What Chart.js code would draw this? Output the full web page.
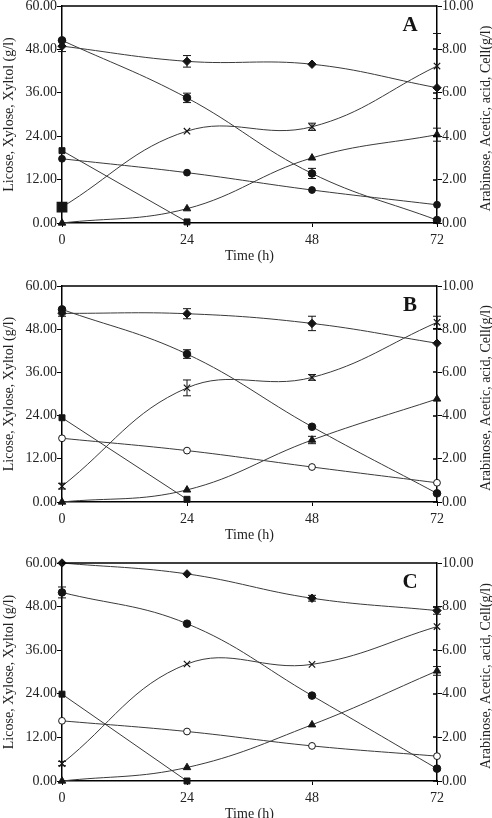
<!DOCTYPE html>
<html>
<head>
<meta charset="utf-8">
<script src="https://cdn.jsdelivr.net/npm/chart.js@4.4.1/dist/chart.umd.min.js"></script>
<style>
  html, body { margin: 0; padding: 0; background: #fff; overflow: hidden; }
  body { width: 492px; height: 818px; position: relative; }
  canvas { position: absolute; left: 0; }
</style>
</head>
<body>
<canvas id="chartA" width="492" height="275" style="top:-10px"></canvas>
<canvas id="chartB" width="492" height="274" style="top:270px"></canvas>
<canvas id="chartC" width="492" height="276" style="top:547px"></canvas>
<script>
// time points (h)
const hours = [0, 24, 48, 72];
const squareHours = [0, 24];
const xTicks = [0, 24, 48, 72];
const leftTicks = [0, 12, 24, 36, 48, 60];
const rightTicks = [0, 2, 4, 6, 8, 10];

// panel A  (left axis g/l: diamond, bigCircle, cross, square; right axis: smallCircle, triangle)
const diamondA = [48.9, 44.7, 43.9, 37.4];
const bigCircleA = [50.5, 34.6, 13.7, 0.8];
const crossA = [4.4, 25.4, 26.6, 43.4];
const squareA = [20.0, 0.3];
const smallCircleA = [2.96, 2.32, 1.52, 0.84];
const triangleA = [0, 0.66, 3.0, 4.07];
const diamondErrA = [1.5, 1.6, 0, 0];
const bigCircleErrA = [0, 1.3, 1.4, 0];
const crossErrA = [0, 0, 1.0, 9.0];
const triangleErrA = [0, 0, 0, 0.3];

// panel B
const diamondB = [52.4, 52.3, 49.6, 44.1];
const bigCircleB = [53.5, 41.1, 20.9, 2.4];
const crossB = [4.4, 31.7, 34.6, 49.9];
const squareB = [23.4, 0.75];
const smallCircleB = [2.95, 2.38, 1.62, 0.89];
const triangleB = [0, 0.56, 2.87, 4.77];
const diamondErrB = [0.8, 1.4, 2.0, 0];
const bigCircleErrB = [0, 1.2, 0, 0];
const crossErrB = [0.8, 2.2, 0.8, 1.7];
const triangleErrB = [0, 0, 0.17, 0];

// panel C
const diamondC = [60.0, 57.0, 50.3, 46.9];
const bigCircleC = [51.9, 43.3, 23.5, 3.4];
const crossC = [4.8, 32.2, 32.1, 42.5];
const squareC = [23.9, 0];
const smallCircleC = [2.76, 2.27, 1.61, 1.14];
const triangleC = [0, 0.62, 2.58, 5.05];
const diamondErrC = [0, 0, 0.8, 1.0];
const bigCircleErrC = [1.5, 0, 0, 0];
const crossErrC = [0.6, 0, 0, 0];
const triangleErrC = [0, 0, 0, 0.2];

const FONT = '"Liberation Serif", "DejaVu Serif", serif';
const INK = '#151515';
const LINE = '#3a3a3a';
Chart.defaults.font.family = FONT;
Chart.defaults.font.size = 14;
Chart.defaults.color = '#222';

function pts(xs, ys) {
  return ys.map((v, i) => ({ x: xs[i], y: v }));
}

function series(xs, ys, axis, style, err) {
  return Object.assign({
    data: pts(xs, ys),
    yAxisID: axis,
    err: err || null,
    borderColor: LINE,
    borderWidth: 1,
    tension: 0.4,
    clip: false,
    pointBorderColor: INK,
    pointBackgroundColor: INK,
    pointBorderWidth: 1,
    pointHoverRadius: 0
  }, style);
}

const panelPlugin = {
  id: 'panel',
  beforeDatasetsDraw(chart) {
    const ctx = chart.ctx;
    ctx.save();
    ctx.strokeStyle = INK;
    ctx.lineWidth = 1;
    chart.data.datasets.forEach((ds, i) => {
      if (!ds.err) return;
      const meta = chart.getDatasetMeta(i);
      const sc = chart.scales[ds.yAxisID];
      ds.err.forEach((e, j) => {
        if (!e) return;
        const p = meta.data[j];
        const v = ds.data[j].y;
        const t = sc.getPixelForValue(v + e);
        const b = sc.getPixelForValue(Math.max(0, v - e));
        ctx.beginPath();
        ctx.moveTo(p.x, t); ctx.lineTo(p.x, b);
        ctx.moveTo(p.x - 4, t); ctx.lineTo(p.x + 4, t);
        ctx.moveTo(p.x - 4, b); ctx.lineTo(p.x + 4, b);
        ctx.stroke();
      });
    });
    ctx.restore();
  },
  afterDraw(chart, args, opts) {
    const { ctx, chartArea: a } = chart;
    ctx.save();
    ctx.strokeStyle = '#000';
    ctx.lineWidth = 1.5;
    ctx.beginPath();
    ctx.moveTo(a.left, a.top); ctx.lineTo(a.right, a.top);
    const r = chart.scales.y1;
    r.ticks.forEach(t => {
      const py = Math.round(r.getPixelForValue(t.value));
      ctx.moveTo(a.right - 4, py); ctx.lineTo(a.right, py);
    });
    ctx.stroke();

    ctx.fillStyle = INK;
    ctx.font = 'bold 21px ' + FONT;
    ctx.textAlign = 'center';
    ctx.textBaseline = 'middle';
    ctx.fillText(opts.letter, a.right - 27, a.top + 20);

    ctx.fillStyle = '#222';
    ctx.translate(486, (a.top + a.bottom) / 2 + 4);
    ctx.rotate(-Math.PI / 2);
    ctx.font = '14px ' + FONT;
    ctx.fillText('Arabinose, Acetic, acid, Cell(g/l)', 0, 0);
    ctx.restore();
  }
};

function makePanel(id, letter, d, firstBigSquare, hollowSmall) {
  const crossStyle = {
    pointStyle: firstBigSquare ? ['rect', 'crossRot', 'crossRot', 'crossRot'] : 'crossRot',
    pointRadius: firstBigSquare ? [6.8, 4.5, 4.5, 4.5] : 4.5,
    pointBorderWidth: 1.2
  };
  new Chart(document.getElementById(id), {
    type: 'line',
    data: {
      datasets: [
        series(hours, d.diamond, 'y', { pointStyle: 'rectRot', pointRadius: 4.2 }, d.diamondErr),
        series(hours, d.bigCircle, 'y', { pointStyle: 'circle', pointRadius: 3.8 }, d.bigCircleErr),
        series(hours, d.cross, 'y', crossStyle, d.crossErr),
        series(squareHours, d.square, 'y', { pointStyle: 'rect', pointRadius: 4.2, tension: 0 }, null),
        series(hours, d.smallCircle, 'y1', {
          pointStyle: 'circle', pointRadius: 3.4,
          pointBackgroundColor: hollowSmall ? '#fff' : INK
        }, null),
        series(hours, d.triangle, 'y1', { pointStyle: 'triangle', pointRadius: 4.3 }, d.triangleErr)
      ]
    },
    options: {
      responsive: false,
      animation: false,
      events: [],
      layout: { padding: { top: 16, left: 0, right: 0, bottom: 0 } },
      plugins: { legend: { display: false }, tooltip: { enabled: false }, panel: { letter: letter } },
      scales: {
        x: {
          type: 'linear', min: 0, max: 72,
          afterBuildTicks: s => { s.ticks = xTicks.map(v => ({ value: v })); },
          afterFit: s => { s.height = 42; },
          ticks: { padding: 5, maxRotation: 0, callback: v => String(v) },
          grid: { drawOnChartArea: false, tickLength: 4, tickColor: '#000' },
          border: { color: '#000', width: 1.5 },
          title: { display: true, text: 'Time (h)', padding: { top: 0, bottom: 0 } }
        },
        y: {
          position: 'left', min: 0, max: 60,
          afterBuildTicks: s => { s.ticks = leftTicks.map(v => ({ value: v })); },
          afterFit: s => { s.width = 62; },
          ticks: { padding: 0, callback: v => v.toFixed(2) },
          grid: { drawOnChartArea: false, tickLength: 5, tickColor: '#000' },
          border: { color: '#000', width: 1.5 },
          title: { display: true, text: 'Licose, Xylose, Xyltol (g/l)', padding: { top: 1, bottom: 0 } }
        },
        y1: {
          position: 'right', min: 0, max: 10,
          afterBuildTicks: s => { s.ticks = rightTicks.map(v => ({ value: v })); },
          afterFit: s => { s.width = 55; },
          ticks: { padding: 0, callback: v => v.toFixed(2) },
          grid: { drawOnChartArea: false, tickLength: 5, tickColor: '#000' },
          border: { color: '#000', width: 1.5 }
        }
      }
    },
    plugins: [panelPlugin]
  });
}

makePanel('chartA', 'A', {
  diamond: diamondA, bigCircle: bigCircleA, cross: crossA, square: squareA,
  smallCircle: smallCircleA, triangle: triangleA,
  diamondErr: diamondErrA, bigCircleErr: bigCircleErrA, crossErr: crossErrA, triangleErr: triangleErrA
}, true, false);

makePanel('chartB', 'B', {
  diamond: diamondB, bigCircle: bigCircleB, cross: crossB, square: squareB,
  smallCircle: smallCircleB, triangle: triangleB,
  diamondErr: diamondErrB, bigCircleErr: bigCircleErrB, crossErr: crossErrB, triangleErr: triangleErrB
}, false, true);

makePanel('chartC', 'C', {
  diamond: diamondC, bigCircle: bigCircleC, cross: crossC, square: squareC,
  smallCircle: smallCircleC, triangle: triangleC,
  diamondErr: diamondErrC, bigCircleErr: bigCircleErrC, crossErr: crossErrC, triangleErr: triangleErrC
}, false, true);
</script>
</body>
</html>
